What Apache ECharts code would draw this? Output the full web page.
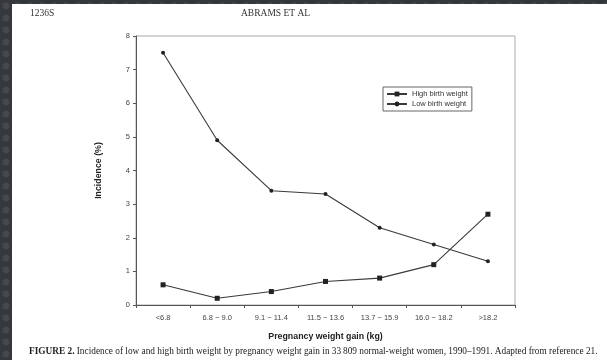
<!DOCTYPE html>
<html>
<head>
<meta charset="utf-8">
<script src="https://cdn.jsdelivr.net/npm/echarts@6/dist/echarts.min.js"></script>
<style>
  html, body { margin: 0; padding: 0; }
  body {
    width: 607px; height: 360px; overflow: hidden;
    background-color: #34373c;
    background-image: radial-gradient(circle, #45484d 3px, transparent 4px);
    background-size: 12px 12px;
    position: relative;
  }
  #page {
    position: absolute; left: 12px; top: 4px; right: 0; bottom: 0;
    background: #fff;
  }
  #charts { position: absolute; left: 0; top: 0; width: 607px; height: 360px; }
</style>
</head>
<body>
<div id="page"></div>
<div id="charts"></div>
<script>
  // pregnancy weight gain groups (kg)
  var categories = ['<6.8', '6.8 \u2212 9.0', '9.1 \u2212 11.4', '11.5 \u2212 13.6', '13.7 \u2212 15.9', '16.0 \u2212 18.2', '>18.2'];
  // incidence (%)
  var highBirthWeight = [0.6, 0.2, 0.4, 0.7, 0.8, 1.2, 2.7];
  var lowBirthWeight = [7.5, 4.9, 3.4, 3.3, 2.3, 1.8, 1.3];
  var yTicks = [0, 1, 2, 3, 4, 5, 6, 7, 8];

  var chart = echarts.init(document.getElementById('charts'));
  var lineColor = '#3a3a3a';
  var sans = 'Liberation Sans, Arial, sans-serif';
  var serif = 'Liberation Serif, Times New Roman, serif';

  chart.setOption({
    backgroundColor: 'transparent',
    animation: false,
    title: [
      {text: '1236S', left: 25, top: 3, textStyle: {fontFamily: serif, fontSize: 9.5, fontWeight: 'normal', color: '#333'}},
      {text: 'ABRAMS ET AL', left: 236, top: 3, textStyle: {fontFamily: serif, fontSize: 9.5, fontWeight: 'normal', color: '#333'}},
      {
        text: '{b|FIGURE 2.} Incidence of low and high birth weight by pregnancy weight gain in 33\u2009809 normal-weight women, 1990\u20131991. Adapted from reference 21.',
        left: 24, top: 342,
        textStyle: {
          fontFamily: serif, fontSize: 9.3, fontWeight: 'normal', color: '#222',
          rich: {b: {fontFamily: serif, fontSize: 9.3, fontWeight: 'bold', color: '#222'}}
        }
      }
    ],
    legend: {
      orient: 'vertical',
      left: 383, top: 87,
      padding: [3, 4, 3, 3],
      itemGap: 2,
      itemWidth: 20, itemHeight: 6,
      borderColor: '#666', borderWidth: 1,
      textStyle: {fontFamily: sans, fontSize: 7.5, color: '#333'},
      data: ['High birth weight', 'Low birth weight']
    },
    grid: {
      left: 136, right: 92, top: 36, bottom: 55,
      show: true, borderColor: '#aaa', borderWidth: 1
    },
    xAxis: {
      type: 'category',
      data: categories,
      boundaryGap: true,
      name: 'Pregnancy weight gain (kg)',
      nameLocation: 'middle',
      nameGap: 27,
      nameTextStyle: {fontFamily: sans, fontSize: 8.8, fontWeight: 'bold', color: '#222'},
      axisLine: {lineStyle: {color: '#555', width: 1}},
      axisTick: {show: true, interval: 0, length: 3, lineStyle: {color: '#555'}},
      axisLabel: {interval: 0, margin: 9, fontFamily: sans, fontSize: 7.5, color: '#444'}
    },
    yAxis: {
      type: 'value',
      min: yTicks[0], max: yTicks[yTicks.length - 1], interval: 1,
      name: 'Incidence (%)',
      nameLocation: 'middle',
      nameGap: 33,
      nameTextStyle: {fontFamily: sans, fontSize: 8.8, fontWeight: 'bold', color: '#222'},
      axisLine: {show: true, lineStyle: {color: '#555', width: 1}},
      axisTick: {show: true, length: 3, lineStyle: {color: '#555'}},
      axisLabel: {margin: 6, fontFamily: sans, fontSize: 7.5, color: '#444'},
      splitLine: {show: false}
    },
    series: [
      {
        name: 'High birth weight',
        type: 'line',
        data: highBirthWeight,
        symbol: 'rect',
        symbolSize: 5,
        lineStyle: {color: lineColor, width: 1.1},
        itemStyle: {color: '#222'}
      },
      {
        name: 'Low birth weight',
        type: 'line',
        data: lowBirthWeight,
        symbol: 'circle',
        symbolSize: 4,
        lineStyle: {color: lineColor, width: 1.1},
        itemStyle: {color: '#222'}
      }
    ]
  });
</script>
</body>
</html>
